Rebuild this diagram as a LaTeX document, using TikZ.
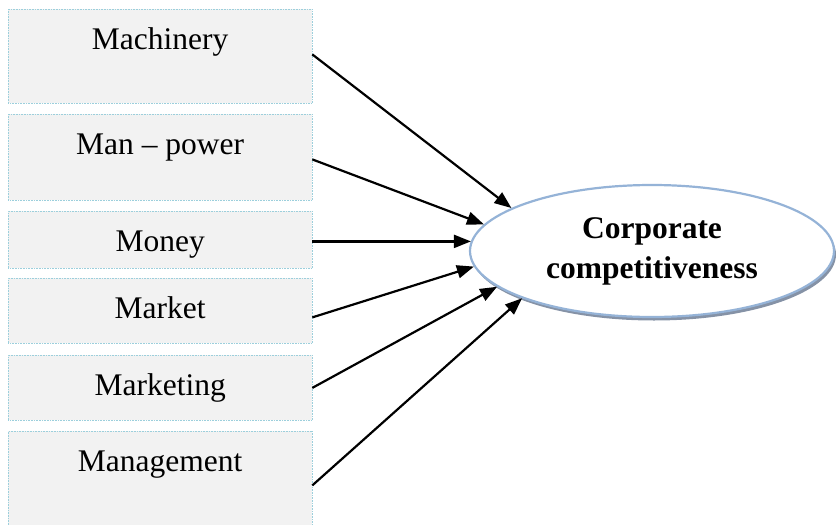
\documentclass[tikz,border=0pt]{standalone}
\usepackage{fontspec}
\setmainfont{Liberation Serif}
\usetikzlibrary{arrows.meta,shapes.geometric,shadows}
\definecolor{boxgray}{HTML}{F2F2F2}
\definecolor{boxline}{HTML}{9CCFDC}
\definecolor{ellline}{HTML}{95B3D7}
\definecolor{shadowgray}{HTML}{8592A6}
\tikzset{
  factor/.style={draw=boxline, dash pattern=on 0.8pt off 0.8pt, line width=0.8pt,
    fill=boxgray, anchor=north west, inner xsep=0pt, inner ysep=0pt,
    minimum width=303.5pt, text height=40pt,
    font=\fontsize{31.5}{40}\selectfont},
  goal/.style={ellipse, draw=ellline, line width=2.2pt, fill=white,
    minimum width=364pt, minimum height=132pt, inner sep=0pt,
    align=center, font=\fontsize{31.5}{40}\selectfont\bfseries,
    drop shadow={shadow xshift=2pt, shadow yshift=-3.5pt, fill=shadowgray, opacity=1}},
  link/.style={line width=2.2pt, -{Triangle[length=17pt,width=13pt]}}
}
\begin{document}
\begin{tikzpicture}[x=1pt,y=-1pt]
\useasboundingbox (0,0) rectangle (836,525);
\node[factor, text depth=54pt] (m1) at (8,9) {Machinery};
\node[factor, text depth=46pt] (m2) at (8,114) {Man -- power};
\node[factor, text depth=17pt] (m3) at (8,211) {Money};
\node[factor, text depth=25pt] (m4) at (8,278) {Market};
\node[factor, text depth=25pt] (m5) at (8,355) {Marketing};
\node[factor, text depth=60pt] (m6) at (8,431) {Management};
\node[goal] (E) at (652,251) {Corporate\\competitiveness};
\coordinate (s3) at ([yshift=-1.5pt]m3.east);
\draw[link] ([yshift=2pt]m1.east) -- (E.163.6);
\draw[link] ([yshift=-2pt]m2.east) -- (E.171.1);
\draw[link] (s3) -- ([xshift=2pt]s3 -| E.west);
\draw[link] ([yshift=-6.5pt]m4.east) -- (E.185.5);
\draw[link] (m5.east) -- (E.193.2);
\draw[link] ([yshift=-4pt]m6.east) -- (E.200.8);
\end{tikzpicture}
\end{document}
